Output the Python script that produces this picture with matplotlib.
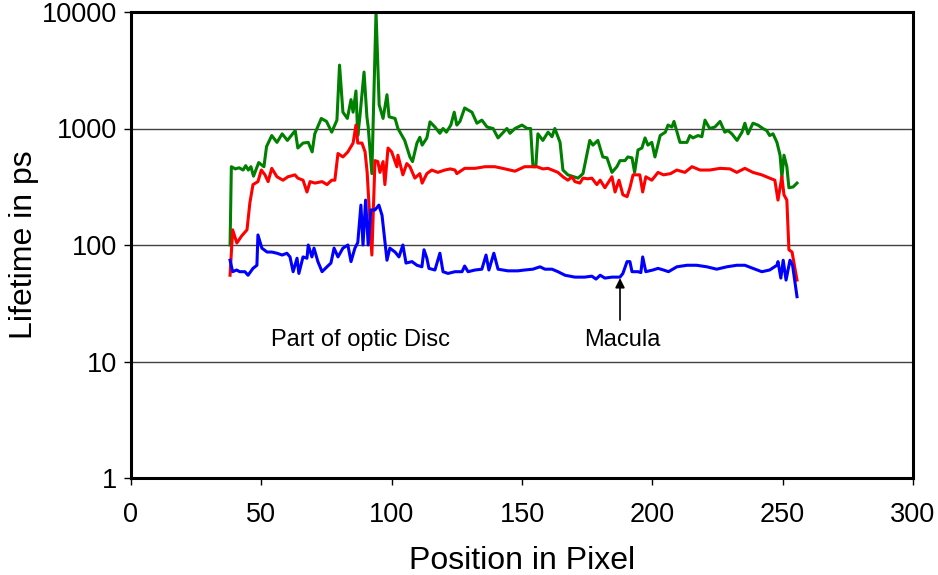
import matplotlib
matplotlib.use("Agg")
import matplotlib.pyplot as plt

plt.rcParams['font.family'] = ['Liberation Sans', 'DejaVu Sans']

# green curve (upper)
green_x = [38, 38.5, 40, 41.5, 43, 44, 45, 46, 47, 49, 51, 52, 54, 56, 58, 60, 63, 64, 66, 68,
           69.5, 70.5, 73, 75, 77, 79, 80, 81.3, 83, 84.4, 85.2, 86.3, 87, 87.8, 89.4, 90.5, 91,
           92.4, 94, 95.2, 96.7, 98.2, 99, 101.3, 102.4, 105, 107, 108, 109.7, 110.8, 111.7,
           113.5, 114.7, 116.6, 118.5, 119.7, 121, 122.7, 124, 125, 126.2, 128, 130.8, 132.7,
           134.6, 136.6, 138.9, 140.8, 144.2, 145.4, 147.3, 150, 152, 153.3, 154.2, 155.3,
           156.1, 158, 160, 161.5, 162.6, 164.6, 165.7, 167.6, 171.5, 173.4, 176, 177.2, 179.1,
           181, 182.6, 184.5, 186.4, 187.6, 189.5, 190.6, 192.2, 193.2, 194.5, 196, 197.2,
           198.3, 199.8, 201, 203, 205, 206, 207.5, 208.3, 210.6, 213.3, 214.4, 215.6, 217.5,
           219, 220.2, 222, 224, 226, 227.8, 229, 230.5, 232.5, 234.4, 235.5, 236.7, 238.6,
           240.5, 242.4, 243.9, 245, 246.3, 247.8, 249, 249.7, 250.5, 251.6, 252.4, 254, 255.5]
green_y = [100, 470, 450, 460, 440, 480, 440, 470, 390, 510, 470, 700, 870, 760, 900, 790, 960,
           680, 750, 760, 630, 900, 1220, 1150, 930, 1180, 3500, 1380, 1220, 1770, 1380, 2100,
           870, 1260, 3050, 1260, 1030, 410, 10000, 1600, 1220, 1950, 1260, 1220, 1000, 790,
           570, 520, 750, 840, 720, 830, 1140, 1030, 910, 1000, 930, 1070, 1380, 1070, 1150,
           1500, 1380, 1110, 1180, 1030, 1000, 830, 1000, 910, 1000, 1070, 1000, 1000, 470,
           470, 900, 790, 930, 850, 1000, 760, 440, 400, 375, 410, 790, 720, 790, 570, 560,
           420, 470, 530, 530, 570, 560, 420, 654, 680, 830, 720, 760, 570, 870, 930, 1070,
           1030, 1150, 760, 760, 870, 830, 870, 850, 1180, 1000, 1030, 1150, 930, 960, 900,
           790, 930, 1110, 900, 1110, 1070, 1000, 960, 870, 900, 760, 590, 380, 590, 470, 310,
           315, 340]

# red curve (middle)
red_x = [38, 39, 40.6, 42.5, 44.5, 45.6, 46.8, 48.7, 50, 51.4, 52.6, 54, 56, 58.3, 60.2, 62.9,
         64, 66, 67.5, 68.7, 70.6, 73.3, 75.2, 77, 78.2, 79.4, 81.3, 83.2, 85.2, 86.3, 87,
         88.6, 89.8, 90.6, 92.4, 93.6, 94.7, 95.5, 96.7, 97.4, 98.6, 100, 102, 102.4, 104.3,
         105.8, 107, 108.9, 110.8, 111.7, 113.5, 115.4, 117.7, 120.4, 122.5, 124.3, 125, 128,
         132, 135.8, 139.6, 143.5, 147.3, 151, 154.2, 155.7, 158, 160, 163.8, 165.7, 167.6,
         169.2, 170.3, 172.2, 173.4, 175.3, 176.8, 178.7, 180, 181.8, 184.5, 185.7, 187.2,
         188.7, 190.3, 191.4, 192.6, 195.2, 196.3, 197.5, 199.8, 202.2, 204.3, 207, 209.4,
         212.5, 215.2, 218.3, 222, 226, 229.8, 232.4, 235.5, 238.6, 242, 245, 247, 248.2,
         249.7, 250.5, 251.6, 252.4, 253.6, 255.5]
red_y = [55, 135, 104, 120, 135, 230, 330, 350, 440, 400, 350, 455, 385, 360, 385, 400, 375,
         360, 285, 350, 340, 350, 330, 360, 360, 610, 570, 630, 750, 1070, 750, 750, 630, 420,
         82, 530, 520, 420, 520, 330, 680, 630, 470, 590, 400, 500, 470, 375, 410, 340, 410,
         440, 420, 440, 450, 440, 410, 455, 455, 470, 470, 450, 430, 470, 470, 470, 450, 455,
         420, 385, 360, 385, 350, 340, 375, 370, 375, 330, 360, 310, 385, 285, 360, 270, 260,
         310, 400, 400, 285, 385, 360, 420, 400, 410, 440, 420, 470, 440, 440, 455, 450, 420,
         455, 420, 400, 375, 360, 243, 385, 270, 243, 91, 87, 50]

# blue curve (lower)
blue_x = [38, 39, 40.5, 41.7, 43.7, 44.9, 46.8, 48.3, 48.7, 50.2, 52.2, 54, 56, 58, 59.8, 61,
          62.2, 63.7, 64.4, 66, 67.5, 68, 69.4, 70.2, 71.7, 73.3, 75.2, 76.7, 77.9, 79.4, 81.3,
          83.2, 84.4, 85.9, 87, 88.2, 89, 90, 91, 92, 93.6, 95.1, 96.3, 98.2, 99.3, 101.3,
          102.8, 104.3, 105.5, 107.8, 109.7, 111.6, 112.4, 113.5, 114.3, 116.6, 118.5, 119.7,
          121.6, 124.3, 127, 128, 129.3, 132, 134.6, 136.2, 137.3, 139.2, 140.8, 144.6, 148.4,
          151, 154.2, 156.9, 158.8, 161.5, 163.8, 166.5, 170.3, 174, 176.8, 178.4, 180, 181.8,
          184.5, 187.6, 188.7, 190.3, 191.4, 192.2, 194.5, 195.6, 196.3, 197.5, 200.2, 202.2,
          204.3, 206.2, 209.4, 213.3, 217, 220.9, 224.7, 228.6, 232.4, 235.5, 238.6, 242, 245,
          247.8, 248.2, 249.3, 250.2, 251.3, 252.8, 253.8, 255.5]
blue_y = [74, 59, 61, 59, 59, 55, 63, 67, 122, 94, 87, 87, 85, 82, 85, 79, 59, 77, 57, 79, 77,
          100, 79, 94, 72, 59, 65, 70, 94, 79, 94, 100, 72, 94, 105, 220, 100, 243, 100, 200,
          200, 220, 180, 74, 94, 87, 79, 100, 70, 72, 67, 65, 91, 77, 63, 61, 85, 59, 57, 59,
          59, 66, 59, 61, 62, 82, 61, 85, 62, 60, 60, 61, 62, 65, 62, 62, 59, 55, 53, 53, 54,
          51, 55, 52, 53, 53, 57, 72, 72, 59, 59, 58, 79, 59, 61, 63, 61, 59, 65, 67, 67, 65,
          62, 65, 67, 67, 63, 59, 61, 67, 72, 52, 74, 50, 74, 67, 36]

x_ticks = [0, 50, 100, 150, 200, 250, 300]
y_ticks = [1, 10, 100, 1000, 10000]
y_tick_labels = ['1', '10', '100', '1000', '10000']

fig = plt.figure(figsize=(9.38, 5.75), dpi=100)
ax = fig.add_axes([131 / 938, 1 - 478 / 575, 782 / 938, 466 / 575])

ax.plot(green_x, green_y, color='#008000', lw=2.2)
ax.plot(red_x, red_y, color='#ff0000', lw=2.2)
ax.plot(blue_x, blue_y, color='#0000ff', lw=2.2)

ax.set_yscale('log')
ax.set_xlim(0, 300)
ax.set_ylim(1, 10000)
ax.set_xticks(x_ticks)
ax.set_yticks(y_ticks)
ax.set_yticklabels(y_tick_labels)
ax.minorticks_off()
ax.grid(axis='y', color='#404040', lw=1)
ax.tick_params(axis='both', labelsize=19.5, length=5, width=1, direction='out')
ax.tick_params(axis='x', pad=12)
ax.tick_params(axis='y', pad=5)
for s in ax.spines.values():
    s.set_linewidth(2.2)
    s.set_color('black')

ax.set_xlabel('Position in Pixel', fontsize=23, labelpad=13)
ax.set_ylabel('Lifetime in ps', fontsize=23, labelpad=2)

ax.text(88.2, 15.3, 'Part of optic Disc', fontsize=17, ha='center', va='center')
ax.text(188.3, 15.3, 'Macula', fontsize=17, ha='center', va='center')
ax.annotate('', xy=(187.6, 52), xytext=(187.6, 22.7),
            arrowprops=dict(arrowstyle='-|>', color='black', lw=1.2, mutation_scale=14,
                            shrinkA=0, shrinkB=0))

fig.savefig('out.png', dpi=100)
